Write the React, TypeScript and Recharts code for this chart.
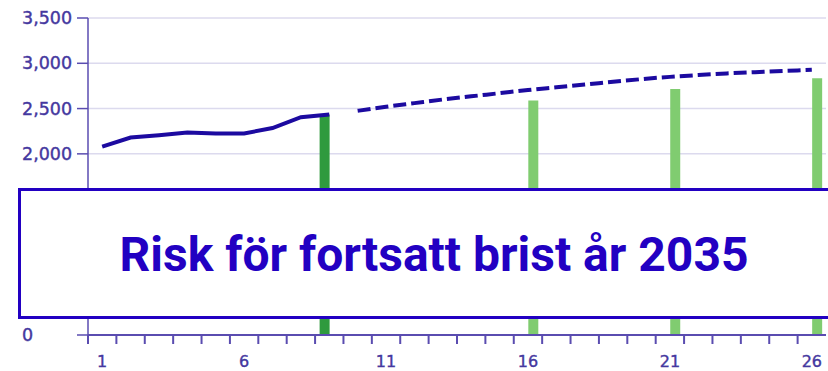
import {
  ComposedChart,
  Bar,
  Line,
  XAxis,
  YAxis,
  CartesianGrid,
} from "recharts";

const periods = [
  "1", "2", "3", "4", "5", "6", "7", "8", "9", "10", "11", "12", "13",
  "14", "15", "16", "17", "18", "19", "20", "21", "22", "23", "24", "25", "26",
];
// solid line, periods 1-9
const history = [2080, 2180, 2205, 2235, 2225, 2225, 2285, 2405, 2435];
// dashed line, periods 10-26
const forecast = [
  2475, 2520, 2560, 2600, 2635, 2670, 2705, 2735, 2765, 2795, 2825, 2850,
  2870, 2888, 2902, 2915, 2928,
];
const actualBars: Record<string, number> = { "9": 2435 };
const forecastBars: Record<string, number> = { "16": 2590, "21": 2715, "26": 2835 };
const yTicks = [0, 500, 1000, 1500, 2000, 2500, 3000, 3500];
const xLabels = ["1", "6", "11", "16", "21", "26"];
const title = "Risk för fortsatt brist år 2035";

const AXIS = "#5a4cb0";
const LABEL = "#45389f";
const LINE = "#1c0aa0";
const BANNER = "#2200c2";

const data = periods.map((p, i) => ({
  period: p,
  history: i < history.length ? history[i] : null,
  forecast: i >= history.length ? forecast[i - history.length] : null,
  actualBar: actualBars[p] ?? null,
  forecastBar: forecastBars[p] ?? null,
}));

function XTick(props: any) {
  const { payload } = props;
  const half = payload.offset ?? 14.19;
  const bx = payload.coordinate - half;
  return (
    <g>
      <line x1={bx} x2={bx} y1={335} y2={344} stroke={AXIS} strokeWidth={2} />
      {xLabels.includes(payload.value) && (
        <text
          x={payload.coordinate}
          y={367}
          textAnchor="middle"
          fill={LABEL}
          stroke={LABEL}
          strokeWidth={0.4}
          fontSize={16}
          fontFamily="DejaVu Sans"
        >
          {payload.value}
        </text>
      )}
    </g>
  );
}

function YTick(props: any) {
  const { y, payload } = props;
  return (
    <text
      x={22}
      y={y + 6}
      textAnchor="start"
      fill={LABEL}
      stroke={LABEL}
      strokeWidth={0.4}
      fontSize={17.5}
      fontFamily="DejaVu Sans"
    >
      {payload.value.toLocaleString("en-US")}
    </text>
  );
}

export default function App() {
  return (
    <div
      style={{
        position: "absolute",
        left: 0,
        top: 0,
        width: 828,
        height: 371,
        overflow: "hidden",
        background: "#fff",
      }}
    >
      <ComposedChart
        width={828}
        height={371}
        data={data}
        margin={{ top: 18, right: 2, left: 0, bottom: 0 }}
        barCategoryGap="16%"
        barGap={0}
      >
        <CartesianGrid
          vertical={false}
          stroke="#dcdaee"
          strokeWidth={1.5}
        />
        <XAxis
          dataKey="period"
          interval={0}
          height={36}
          tickLine={false}
          axisLine={{ stroke: AXIS, strokeWidth: 2 }}
          tick={<XTick />}
        />
        <YAxis
          width={88}
          domain={[0, 3500]}
          ticks={yTicks}
          tickSize={11}
          tickLine={{ stroke: AXIS, strokeWidth: 1.5 }}
          axisLine={{ stroke: AXIS, strokeWidth: 1.5 }}
          tick={<YTick />}
        />
        <Bar dataKey="actualBar" fill="#2f9a3e" isAnimationActive={false} />
        <Bar dataKey="forecastBar" fill="#80cc70" isAnimationActive={false} />
        <Line
          type="linear"
          dataKey="history"
          stroke={LINE}
          strokeWidth={4}
          dot={false}
          isAnimationActive={false}
        />
        <Line
          type="monotone"
          dataKey="forecast"
          stroke={LINE}
          strokeWidth={4}
          strokeDasharray="13 5"
          dot={false}
          isAnimationActive={false}
        />
      </ComposedChart>
      <div
        style={{
          position: "absolute",
          left: 18,
          top: 188,
          width: 900,
          height: 131,
          boxSizing: "border-box",
          border: `3.5px solid ${BANNER}`,
          background: "#fff",
        }}
      />
      <div
        style={{
          position: "absolute",
          left: 0,
          top: 231,
          width: 868,
          textAlign: "center",
          fontFamily: "Roboto",
          fontWeight: 700,
          fontSize: 48,
          lineHeight: "48px",
          color: BANNER,
          whiteSpace: "nowrap",
        }}
      >
        {title}
      </div>
    </div>
  );
}
